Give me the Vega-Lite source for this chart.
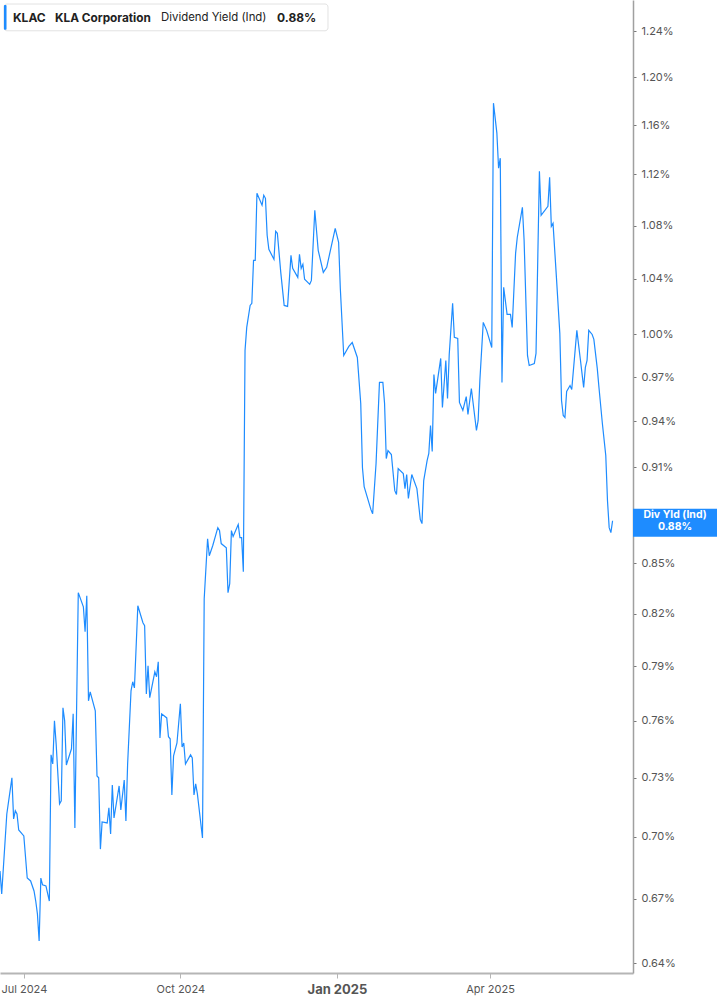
{
  "$schema": "https://vega.github.io/schema/vega-lite/v6.json",
  "width": 633,
  "height": 973,
  "autosize": {"type": "none"},
  "padding": {"left": 0, "top": 0, "right": 84, "bottom": 32},
  "background": "white",
  "config": {"view": {"stroke": null}, "font": "Inter"},
  "datasets": {
    "yield": [
      {"date":"2024-06-17","v":0.6832},{"date":"2024-06-18","v":0.6722},{"date":"2024-06-21","v":0.7114},{"date":"2024-06-24","v":0.7299},{"date":"2024-06-25","v":0.7089},{"date":"2024-06-26","v":0.7130},{"date":"2024-06-27","v":0.7114},{"date":"2024-06-28","v":0.7034},
      {"date":"2024-07-01","v":0.7004},{"date":"2024-07-03","v":0.6798},{"date":"2024-07-05","v":0.6784},{"date":"2024-07-07","v":0.6736},{"date":"2024-07-08","v":0.6688},{"date":"2024-07-09","v":0.6626},{"date":"2024-07-10","v":0.6501},{"date":"2024-07-11","v":0.6798},{"date":"2024-07-12","v":0.6765},{"date":"2024-07-14","v":0.6760},{"date":"2024-07-16","v":0.6688},{"date":"2024-07-17","v":0.7419},{"date":"2024-07-18","v":0.7371},{"date":"2024-07-19","v":0.7600},{"date":"2024-07-20","v":0.7477},{"date":"2024-07-22","v":0.7165},{"date":"2024-07-23","v":0.7181},{"date":"2024-07-24","v":0.7671},{"date":"2024-07-25","v":0.7600},{"date":"2024-07-26","v":0.7366},{"date":"2024-07-29","v":0.7451},{"date":"2024-07-30","v":0.7638},{"date":"2024-07-31","v":0.7044},
      {"date":"2024-08-02","v":0.8324},{"date":"2024-08-05","v":0.8241},{"date":"2024-08-06","v":0.8096},{"date":"2024-08-07","v":0.8306},{"date":"2024-08-08","v":0.7709},{"date":"2024-08-09","v":0.7758},{"date":"2024-08-12","v":0.7654},{"date":"2024-08-13","v":0.7309},{"date":"2024-08-14","v":0.7299},{"date":"2024-08-15","v":0.6939},{"date":"2024-08-16","v":0.7074},{"date":"2024-08-19","v":0.7069},{"date":"2024-08-20","v":0.7145},{"date":"2024-08-21","v":0.7014},{"date":"2024-08-22","v":0.7262},{"date":"2024-08-23","v":0.7094},{"date":"2024-08-26","v":0.7257},{"date":"2024-08-27","v":0.7135},{"date":"2024-08-29","v":0.7288},{"date":"2024-08-30","v":0.7079},{"date":"2024-08-31","v":0.7371},
      {"date":"2024-09-02","v":0.7764},{"date":"2024-09-03","v":0.7814},{"date":"2024-09-04","v":0.7780},{"date":"2024-09-06","v":0.8247},{"date":"2024-09-09","v":0.8148},{"date":"2024-09-10","v":0.8131},{"date":"2024-09-11","v":0.7747},{"date":"2024-09-12","v":0.7903},{"date":"2024-09-13","v":0.7726},{"date":"2024-09-16","v":0.7869},{"date":"2024-09-17","v":0.7842},{"date":"2024-09-18","v":0.7926},{"date":"2024-09-19","v":0.7509},{"date":"2024-09-20","v":0.7638},{"date":"2024-09-23","v":0.7616},{"date":"2024-09-24","v":0.7515},{"date":"2024-09-25","v":0.7504},{"date":"2024-09-26","v":0.7211},{"date":"2024-09-27","v":0.7414},{"date":"2024-09-29","v":0.7482},
      {"date":"2024-10-01","v":0.7693},{"date":"2024-10-02","v":0.7461},{"date":"2024-10-03","v":0.7482},{"date":"2024-10-04","v":0.7371},{"date":"2024-10-07","v":0.7419},{"date":"2024-10-08","v":0.7403},{"date":"2024-10-09","v":0.7211},{"date":"2024-10-10","v":0.7268},{"date":"2024-10-11","v":0.7216},{"date":"2024-10-14","v":0.6994},{"date":"2024-10-15","v":0.8288},{"date":"2024-10-17","v":0.8649},{"date":"2024-10-18","v":0.8545},{"date":"2024-10-20","v":0.8606},{"date":"2024-10-23","v":0.8717},{"date":"2024-10-24","v":0.8699},{"date":"2024-10-25","v":0.8619},{"date":"2024-10-28","v":0.8594},{"date":"2024-10-29","v":0.8324},{"date":"2024-10-30","v":0.8377},{"date":"2024-10-31","v":0.8699},
      {"date":"2024-11-01","v":0.8662},{"date":"2024-11-04","v":0.8736},{"date":"2024-11-05","v":0.8655},{"date":"2024-11-06","v":0.8655},{"date":"2024-11-07","v":0.8449},{"date":"2024-11-08","v":0.9885},{"date":"2024-11-09","v":1.0048},{"date":"2024-11-11","v":1.0206},{"date":"2024-11-12","v":1.0221},{"date":"2024-11-13","v":1.0538},{"date":"2024-11-14","v":1.0538},{"date":"2024-11-15","v":1.1052},{"date":"2024-11-18","v":1.0958},{"date":"2024-11-19","v":1.1036},{"date":"2024-11-20","v":1.1012},{"date":"2024-11-21","v":1.0727},{"date":"2024-11-22","v":1.0620},{"date":"2024-11-25","v":1.0545},{"date":"2024-11-26","v":1.0757},{"date":"2024-11-27","v":1.0742},{"date":"2024-11-29","v":1.0448},
      {"date":"2024-12-01","v":1.0206},{"date":"2024-12-03","v":1.0199},{"date":"2024-12-05","v":1.0575},{"date":"2024-12-06","v":1.0478},{"date":"2024-12-09","v":1.0411},{"date":"2024-12-10","v":1.0583},{"date":"2024-12-11","v":1.0478},{"date":"2024-12-12","v":1.0508},{"date":"2024-12-13","v":1.0397},{"date":"2024-12-16","v":1.0360},{"date":"2024-12-17","v":1.0389},{"date":"2024-12-19","v":1.0919},{"date":"2024-12-21","v":1.0613},{"date":"2024-12-24","v":1.0448},{"date":"2024-12-26","v":1.0486},{"date":"2024-12-31","v":1.0780},
      {"date":"2025-01-02","v":1.0673},{"date":"2025-01-03","v":1.0330},{"date":"2025-01-05","v":0.9850},{"date":"2025-01-08","v":0.9913},{"date":"2025-01-10","v":0.9941},{"date":"2025-01-13","v":0.9836},{"date":"2025-01-15","v":0.9520},{"date":"2025-01-16","v":0.9097},{"date":"2025-01-17","v":0.8975},{"date":"2025-01-21","v":0.8829},{"date":"2025-01-22","v":0.8804},{"date":"2025-01-24","v":0.9123},{"date":"2025-01-26","v":0.9663},{"date":"2025-01-28","v":0.9663},{"date":"2025-01-29","v":0.9520},{"date":"2025-01-30","v":0.9155},{"date":"2025-01-31","v":0.9207},
      {"date":"2025-02-02","v":0.9181},{"date":"2025-02-04","v":0.8949},{"date":"2025-02-05","v":0.8924},{"date":"2025-02-06","v":0.9090},{"date":"2025-02-09","v":0.9058},{"date":"2025-02-10","v":0.8962},{"date":"2025-02-11","v":0.9052},{"date":"2025-02-12","v":0.8899},{"date":"2025-02-14","v":0.9052},{"date":"2025-02-17","v":0.8962},{"date":"2025-02-19","v":0.8767},{"date":"2025-02-20","v":0.8742},{"date":"2025-02-21","v":0.9013},{"date":"2025-02-23","v":0.9142},{"date":"2025-02-24","v":0.9188},{"date":"2025-02-25","v":0.9372},{"date":"2025-02-26","v":0.9201},{"date":"2025-02-27","v":0.9718},{"date":"2025-02-28","v":0.9588},
      {"date":"2025-03-03","v":0.9829},{"date":"2025-03-04","v":0.9493},{"date":"2025-03-06","v":0.9815},{"date":"2025-03-07","v":0.9554},{"date":"2025-03-08","v":0.9857},{"date":"2025-03-10","v":1.0221},{"date":"2025-03-11","v":0.9977},{"date":"2025-03-13","v":0.9970},{"date":"2025-03-14","v":0.9527},{"date":"2025-03-16","v":0.9473},{"date":"2025-03-18","v":0.9567},{"date":"2025-03-19","v":0.9446},{"date":"2025-03-21","v":0.9622},{"date":"2025-03-24","v":0.9339},{"date":"2025-03-25","v":0.9406},{"date":"2025-03-26","v":0.9677},{"date":"2025-03-28","v":1.0084},{"date":"2025-03-30","v":1.0027},
      {"date":"2025-04-02","v":0.9906},{"date":"2025-04-03","v":1.1781},{"date":"2025-04-05","v":1.1533},{"date":"2025-04-06","v":1.1250},{"date":"2025-04-07","v":1.1330},{"date":"2025-04-08","v":0.9663},{"date":"2025-04-09","v":1.0338},{"date":"2025-04-11","v":1.0141},{"date":"2025-04-13","v":1.0141},{"date":"2025-04-14","v":1.0048},{"date":"2025-04-16","v":1.0590},{"date":"2025-04-17","v":1.0712},{"date":"2025-04-20","v":1.0942},{"date":"2025-04-21","v":1.0689},{"date":"2025-04-23","v":0.9850},{"date":"2025-04-24","v":0.9780},{"date":"2025-04-27","v":0.9794},{"date":"2025-04-28","v":0.9864},{"date":"2025-04-30","v":1.1226},
      {"date":"2025-05-01","v":1.0880},{"date":"2025-05-05","v":1.0950},{"date":"2025-05-06","v":1.1178},{"date":"2025-05-07","v":1.0795},{"date":"2025-05-08","v":1.0818},{"date":"2025-05-10","v":1.0411},{"date":"2025-05-12","v":1.0005},{"date":"2025-05-13","v":0.9540},{"date":"2025-05-14","v":0.9439},{"date":"2025-05-15","v":0.9426},{"date":"2025-05-16","v":0.9601},{"date":"2025-05-17","v":0.9622},{"date":"2025-05-18","v":0.9642},{"date":"2025-05-19","v":0.9615},{"date":"2025-05-22","v":1.0027},{"date":"2025-05-24","v":0.9829},{"date":"2025-05-26","v":0.9629},{"date":"2025-05-27","v":0.9767},{"date":"2025-05-28","v":0.9815},{"date":"2025-05-29","v":1.0027},{"date":"2025-05-31","v":0.9998},
      {"date":"2025-06-01","v":0.9963},{"date":"2025-06-03","v":0.9760},{"date":"2025-06-04","v":0.9629},{"date":"2025-06-06","v":0.9386},{"date":"2025-06-08","v":0.9175},{"date":"2025-06-09","v":0.8886},{"date":"2025-06-10","v":0.8717},{"date":"2025-06-11","v":0.8686},{"date":"2025-06-12","v":0.8760}
    ],
    "last": [{"v": 0.876, "name": "Div Yld (Ind)", "val": "0.88%"}]
  },
  "layer": [
    {
      "data": {"name": "yield"},
      "mark": {"type": "line", "color": "#1e8cff", "strokeWidth": 1.2, "interpolate": "linear"},
      "encoding": {
        "x": {
          "field": "date", "type": "temporal",
          "scale": {"type": "utc", "domain": [{"year": 2024, "month": 6, "date": 17, "utc": true}, {"year": 2025, "month": 6, "date": 24, "utc": true}]},
          "axis": {
            "title": null, "grid": false,
            "values": [{"year": 2024, "month": 7, "date": 1, "utc": true}, {"year": 2024, "month": 10, "date": 1, "utc": true}, {"year": 2025, "month": 1, "date": 1, "utc": true}, {"year": 2025, "month": 4, "date": 1, "utc": true}],
            "format": "%b %Y",
            "domainColor": "#b5b5b5", "domainWidth": 2,
            "tickColor": "#b5b5b5", "tickSize": 5, "tickWidth": 1,
            "labelColor": "#555555", "labelPadding": 5, "labelFont": "Inter",
            "labelFontSize": {"condition": {"test": "utcmonth(datum.value) === 0", "value": 13}, "value": 11},
            "labelFontWeight": {"condition": {"test": "utcmonth(datum.value) === 0", "value": "bold"}, "value": "normal"}
          }
        },
        "y": {
          "field": "v", "type": "quantitative",
          "scale": {"type": "log", "domain": [0.6355, 1.2676], "nice": false, "zero": false},
          "axis": {
            "orient": "right", "title": null, "grid": false,
            "values": [0.64, 0.67, 0.70, 0.73, 0.76, 0.79, 0.82, 0.85, 0.91, 0.94, 0.97, 1.00, 1.04, 1.08, 1.12, 1.16, 1.20, 1.24],
            "labelExpr": "format(datum.value, '.2f') + '%'",
            "domainColor": "#a0a0a0", "domainWidth": 1.5,
            "tickColor": "#777777", "tickSize": 3,
            "labelColor": "#555555", "labelFontSize": 11, "labelPadding": 5, "labelFont": "Inter"
          }
        }
      }
    },
    {
      "data": {"values": [{}]},
      "mark": {"type": "rect", "fill": "white", "stroke": "#e2e2e2", "strokeWidth": 1, "cornerRadius": 3},
      "encoding": {
        "x": {"datum": {"year": 2024, "month": 6, "date": 19, "hours": 8, "utc": true}, "type": "temporal"},
        "x2": {"datum": {"year": 2024, "month": 12, "date": 26, "hours": 18, "utc": true}},
        "y": {"datum": 1.2640, "type": "quantitative"},
        "y2": {"datum": 1.2402}
      }
    },
    {
      "data": {"values": [{}]},
      "mark": {"type": "rect", "fill": "#1e8cff", "cornerRadius": 1},
      "encoding": {
        "x": {"datum": {"year": 2024, "month": 6, "date": 19, "hours": 8, "utc": true}, "type": "temporal"},
        "x2": {"datum": {"year": 2024, "month": 6, "date": 20, "hours": 20, "utc": true}},
        "y": {"datum": 1.2630, "type": "quantitative"},
        "y2": {"datum": 1.2412}
      }
    },
    {
      "data": {"values": [{}]},
      "mark": {"type": "text", "text": "KLAC", "font": "Inter", "fontSize": 12, "fontWeight": "bold", "color": "#222222", "align": "left", "baseline": "middle"},
      "encoding": {
        "x": {"datum": {"year": 2024, "month": 6, "date": 24, "hours": 15, "utc": true}, "type": "temporal"},
        "y": {"datum": 1.2519, "type": "quantitative"}
      }
    },
    {
      "data": {"values": [{}]},
      "mark": {"type": "text", "text": "KLA Corporation", "font": "Inter", "fontSize": 11.8, "fontWeight": "bold", "color": "#222222", "align": "left", "baseline": "middle"},
      "encoding": {
        "x": {"datum": {"year": 2024, "month": 7, "date": 19, "hours": 8, "utc": true}, "type": "temporal"},
        "y": {"datum": 1.2519, "type": "quantitative"}
      }
    },
    {
      "data": {"values": [{}]},
      "mark": {"type": "text", "text": "Dividend Yield (Ind)", "font": "Inter", "fontSize": 11.4, "fontWeight": "normal", "color": "#222222", "align": "left", "baseline": "middle"},
      "encoding": {
        "x": {"datum": {"year": 2024, "month": 9, "date": 19, "hours": 15, "utc": true}, "type": "temporal"},
        "y": {"datum": 1.2519, "type": "quantitative"}
      }
    },
    {
      "data": {"values": [{}]},
      "mark": {"type": "text", "text": "0.88%", "font": "Inter", "fontSize": 12, "fontWeight": "bold", "color": "#222222", "align": "left", "baseline": "middle"},
      "encoding": {
        "x": {"datum": {"year": 2024, "month": 11, "date": 26, "hours": 19, "utc": true}, "type": "temporal"},
        "y": {"datum": 1.2519, "type": "quantitative"}
      }
    },
    {
      "data": {"name": "last"},
      "mark": {"type": "rect", "fill": "#1e8cff", "yOffset": -12, "y2Offset": 16},
      "encoding": {
        "x": {"datum": {"year": 2025, "month": 6, "date": 24, "utc": true}, "type": "temporal"},
        "x2": {"datum": {"year": 2025, "month": 8, "date": 25, "utc": true}},
        "y": {"field": "v", "type": "quantitative"},
        "y2": {"field": "v"}
      }
    },
    {
      "data": {"name": "last"},
      "mark": {"type": "text", "font": "Inter", "fontSize": 10.5, "fontWeight": "bold", "color": "white", "align": "center", "baseline": "middle", "dy": -5.5},
      "encoding": {
        "x": {"datum": {"year": 2025, "month": 7, "date": 18, "hours": 17, "utc": true}, "type": "temporal"},
        "y": {"field": "v", "type": "quantitative"},
        "text": {"field": "name"}
      }
    },
    {
      "data": {"name": "last"},
      "mark": {"type": "text", "font": "Inter", "fontSize": 10.5, "fontWeight": "bold", "color": "white", "align": "center", "baseline": "middle", "dy": 6},
      "encoding": {
        "x": {"datum": {"year": 2025, "month": 7, "date": 18, "hours": 17, "utc": true}, "type": "temporal"},
        "y": {"field": "v", "type": "quantitative"},
        "text": {"field": "val"}
      }
    }
  ]
}
